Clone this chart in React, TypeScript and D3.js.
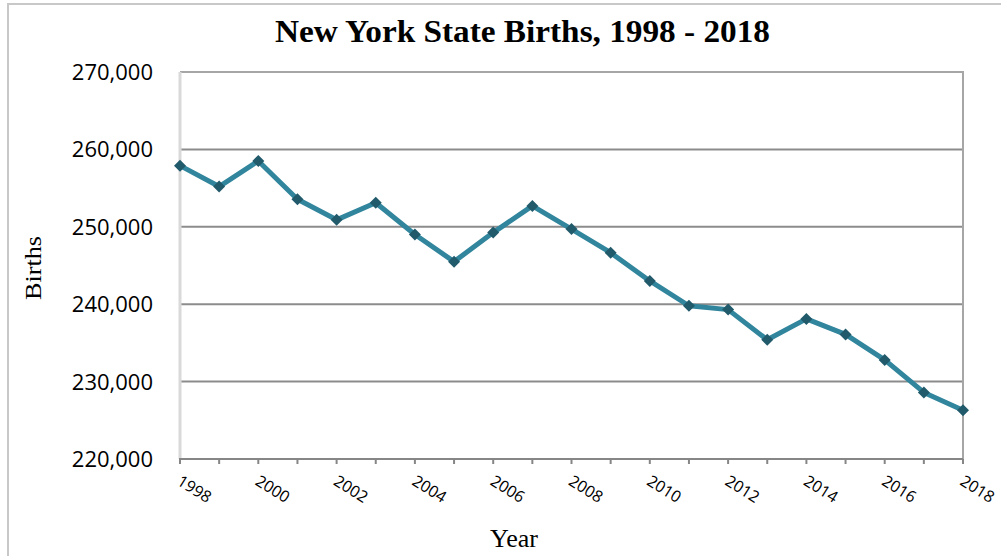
import React from "react";
import * as d3 from "d3";

const years = [1998,1999,2000,2001,2002,2003,2004,2005,2006,2007,2008,2009,2010,2011,2012,2013,2014,2015,2016,2017,2018];
const births = [257900,255200,258500,253550,250900,253100,249000,245500,249250,252700,249700,246650,243000,239800,239300,235400,238100,236100,232800,228600,226300];
const yTicks = [220000,230000,240000,250000,260000,270000];
const xTickLabels = [1998,2000,2002,2004,2006,2008,2010,2012,2014,2016,2018];

const W = 1001, H = 556;
const left = 180, right = 963, top = 72, bottom = 459;

export default function App() {
  const x = d3.scaleLinear().domain([1998, 2018]).range([left, right]);
  const y = d3.scaleLinear().domain([220000, 270000]).range([bottom, top]);
  const line = d3.line<number>().x((_, i) => x(years[i])).y((d) => y(d));
  const fmt = d3.format(",");
  const sym = d3.symbol().type(d3.symbolSquare).size(72)();
  return (
    <svg width={W} height={H} style={{ position: "absolute", left: 0, top: 0 }}>
      <rect x={0} y={0} width={W} height={H} fill="#fff" />
      <rect x={8} y={4} width={1000} height={570} fill="none" stroke="#c8c8c8" strokeWidth={2} />
      <text x={275} y={42} textLength={495} lengthAdjust="spacingAndGlyphs" fontFamily="'Liberation Serif', serif" fontWeight="bold" fontSize={32}>
        New York State Births, 1998 - 2018
      </text>
      {yTicks.map((t) => (
        <g key={t}>
          {t > 220000 && (
            <line x1={left} x2={right} y1={y(t)} y2={y(t)} stroke={t === 270000 ? "#a6a6a6" : "#8c8c8c"} strokeWidth={2} />
          )}
          <text x={153} y={y(t) + 8} textAnchor="end" fontFamily="'Open Sans', sans-serif" fontSize={22} fill="#000">
            {fmt(t)}
          </text>
        </g>
      ))}
      <line x1={left} x2={left} y1={top} y2={bottom} stroke="#d9d9d9" strokeWidth={3} />
      <line x1={right} x2={right} y1={top - 1} y2={bottom + 5} stroke="#a6a6a6" strokeWidth={2} />
      <line x1={left - 1} x2={right} y1={bottom} y2={bottom} stroke="#868686" strokeWidth={2} />
      {years.map((yr) => (
        <line key={yr} x1={x(yr)} x2={x(yr)} y1={bottom} y2={bottom + 5} stroke="#868686" strokeWidth={2} />
      ))}
      {xTickLabels.map((yr) => (
        <text key={yr} transform={`translate(${x(yr) - 4},${484}) rotate(32)`} fontFamily="'Open Sans', sans-serif" fontSize={16} fill="#000">
          {yr}
        </text>
      ))}
      <text transform={`translate(41,268) rotate(-90)`} textAnchor="middle" textLength={64} lengthAdjust="spacingAndGlyphs" fontFamily="'Liberation Serif', serif" fontSize={24}>
        Births
      </text>
      <text x={514} y={547} textAnchor="middle" textLength={48} lengthAdjust="spacingAndGlyphs" fontFamily="'Liberation Serif', serif" fontSize={25}>
        Year
      </text>
      <path d={line(births) || ""} fill="none" stroke="#31859c" strokeWidth={5} strokeLinejoin="round" />
      {births.map((b, i) => (
        <path key={i} d={sym || ""} transform={`translate(${x(years[i])},${y(b)}) rotate(45)`} fill="#215a6b" />
      ))}
    </svg>
  );
}
